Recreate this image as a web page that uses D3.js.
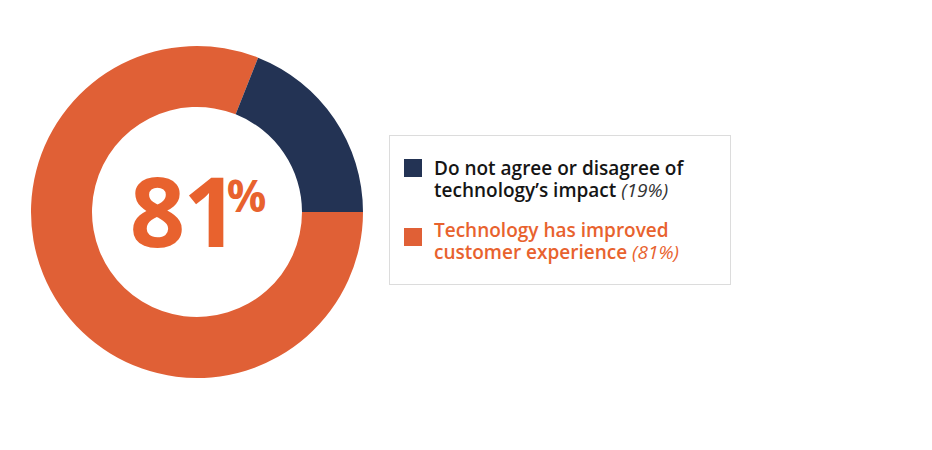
<!DOCTYPE html>
<html><head><meta charset="utf-8">
<script src="https://cdn.jsdelivr.net/npm/d3@7"></script>
<style>
html,body{margin:0;padding:0;background:#fff;}
svg{display:block;font-family:"Open Sans",sans-serif;}
</style></head>
<body>
<svg id="chart" width="932" height="450"></svg>
<script>
const categories = ["Technology has improved customer experience", "Do not agree or disagree of technology’s impact"];
const values = [81, 19];
const colors = ["#E06036", "#233354"];
const centerLabel = "81";
const legendLines = [
  {key: 1, lines: ["Do not agree or disagree of", "technology’s impact"], pct: "(19%)", textColor: "#151515"},
  {key: 0, lines: ["Technology has improved", "customer experience"], pct: "(81%)", textColor: "#E8622E"}
];

const svg = d3.select("#chart");
const cx = 197, cy = 212, rOuter = 166, rInner = 105;

const pie = d3.pie().sort(null).value(d => d)
  .startAngle(Math.PI / 2).endAngle(Math.PI / 2 + 2 * Math.PI);
const arc = d3.arc().innerRadius(rInner).outerRadius(rOuter);

const g = svg.append("g").attr("transform", `translate(${cx},${cy})`);
g.selectAll("path").data(pie(values)).join("path")
  .attr("d", arc).attr("fill", (d, i) => colors[i]);

const t = g.append("text").attr("y", 35).attr("text-anchor", "middle")
  .attr("fill", "#E8622E").attr("font-weight", 700);
t.append("tspan").attr("font-size", 97).attr("dx", 1).attr("letter-spacing", -2).text(centerLabel);
t.append("tspan").attr("font-size", 44).attr("dx", -10).attr("dy", -35).text("%");

// legend
const lg = svg.append("g");
lg.append("rect").attr("x", 389.5).attr("y", 135.5).attr("width", 341).attr("height", 149)
  .attr("fill", "#fff").attr("stroke", "#dcdcdc").attr("stroke-width", 1);

const rows = [{sq: 159, base: 175}, {sq: 228, base: 237}];
legendLines.forEach((item, i) => {
  const r = rows[i];
  lg.append("rect").attr("x", 404).attr("y", r.sq).attr("width", 18).attr("height", 18)
    .attr("fill", colors[item.key]);
  const tx = lg.append("text").attr("x", 434).attr("y", r.base)
    .attr("font-size", 19).attr("font-weight", 600).attr("fill", item.textColor);
  item.lines.forEach((ln, j) => {
    tx.append("tspan").attr("x", 434).attr("dy", j === 0 ? 0 : 22).text(ln);
  });
  tx.append("tspan").attr("font-weight", 400).attr("font-style", "italic")
    .attr("fill", i === 0 ? "#333" : item.textColor).text(" " + item.pct);
});
</script>
</body></html>
